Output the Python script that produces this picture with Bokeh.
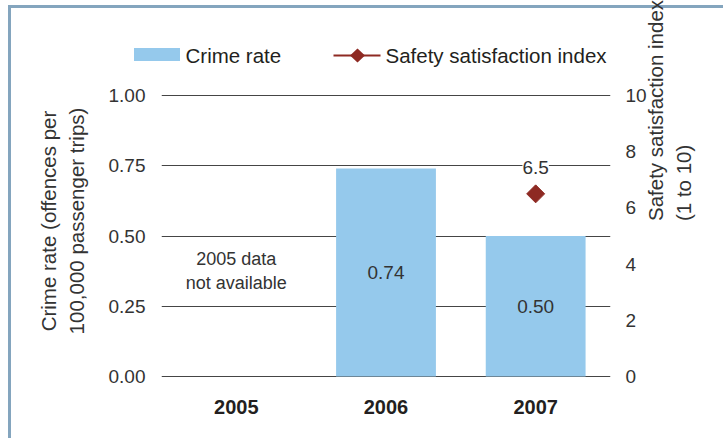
import math

from bokeh.core.properties import value
from bokeh.embed import file_html
from bokeh.models import (BoxAnnotation, ColumnDataSource, FactorRange, FixedTicker,
                          Label, LabelSet, LinearAxis, NumeralTickFormatter,
                          PolyAnnotation, Range1d)
from bokeh.plotting import figure
from bokeh.resources import INLINE

# ---- data -------------------------------------------------------------
years = ["2005", "2006", "2007"]
crime_rate = [float("nan"), 0.74, 0.50]          # offences per 100,000 passenger trips
safety_index = [float("nan"), float("nan"), 6.5]  # satisfaction score, 1 to 10
crime_ticks = [0.0, 0.25, 0.50, 0.75, 1.0]
index_ticks = [0, 2, 4, 6, 8, 10]
missing_note = "2005 data\nnot available"

# ---- style ------------------------------------------------------------
FONT = "Liberation Sans"
BAR = "#95c9ec"
RED = "#8e2a23"
TEXT = "#333333"
GRID = "#454545"
FRAME = "#84a5be"

# The plotting frame reaches up to the legend row and down to the year
# labels; the zero line sits at y=376 px and one unit of rate is 281 px.
PX = 281
ZERO = 376
FRAME_TOP = 45
FRAME_BOTTOM = 396
y_lo, y_hi = -(FRAME_BOTTOM - ZERO) / PX, (ZERO - FRAME_TOP) / PX

p = figure(
    width=723, height=438,
    x_range=FactorRange(*years, range_padding=0),
    y_range=Range1d(y_lo, y_hi),
    output_backend="svg", toolbar_location=None,
    min_border_left=161, min_border_right=113,
    min_border_top=FRAME_TOP, min_border_bottom=438 - FRAME_BOTTOM,
    outline_line_color=None,
    background_fill_alpha=0, border_fill_alpha=0,
)
p.extra_y_ranges = {"index": Range1d(10 * y_lo, 10 * y_hi)}

# panel edge and the legend swatch that pokes out past the frame are painted
# as the plot element's own background
p.styles = {
    "background-color": "white",
    "background-image": (f"linear-gradient({FRAME},{FRAME}), "
                         f"linear-gradient({FRAME},{FRAME}), "
                         f"linear-gradient({BAR},{BAR})"),
    "background-position": "8px 5px, 8px 5px, 134px 48px",
    "background-size": "100% 3px, 3px 100%, 46px 13px",
    "background-repeat": "no-repeat",
}

# bars for crime rate
bar_src = ColumnDataSource(dict(year=years, crime=crime_rate))
p.vbar(x="year", top="crime", width=0.667, source=bar_src,
       fill_color=BAR, line_color=None)

valued = [(y, v) for y, v in zip(years, crime_rate) if not math.isnan(v)]
bar_lbl = ColumnDataSource(dict(
    year=[y for y, _ in valued],
    mid=[v / 2 for _, v in valued],
    text=[f"{v:.2f}" for _, v in valued],
))
p.add_layout(LabelSet(x="year", y="mid", text="text", source=bar_lbl,
                      text_align="center", text_baseline="middle",
                      text_font=value(FONT), text_font_size="19px",
                      text_color=TEXT))

# safety satisfaction index point
idx_src = ColumnDataSource(dict(year=years, index=safety_index))
p.scatter(x="year", y="index", source=idx_src, y_range_name="index",
          marker="square", angle=math.pi / 4, size=12.7,
          fill_color=RED, line_color=RED)

shown = [(y, v) for y, v in zip(years, safety_index) if not math.isnan(v)]
idx_lbl = ColumnDataSource(dict(
    year=[y for y, _ in shown],
    index=[v for _, v in shown],
    text=[f"{v:.1f}" for _, v in shown],
))
p.add_layout(LabelSet(x="year", y="index", text="text", source=idx_lbl,
                      y_range_name="index", y_offset=26,
                      text_align="center", text_baseline="middle",
                      text_font=value(FONT), text_font_size="19px",
                      text_color=TEXT, background_fill_color="white"))

# note for the missing year
p.add_layout(Label(x=0.5, y=0.374, text=missing_note,
                   text_align="center", text_baseline="middle",
                   text_font=FONT, text_font_size="18px",
                   text_color=TEXT))

# ---- axes and grid ----------------------------------------------------
p.xgrid.grid_line_color = None
p.ygrid.ticker = FixedTicker(ticks=crime_ticks)
p.ygrid.grid_line_color = GRID
p.ygrid.grid_line_width = 1

def plain(axis):
    axis.axis_line_color = None
    axis.major_tick_line_color = None
    axis.minor_tick_line_color = None
    axis.major_tick_out = 0
    axis.major_label_text_font = FONT
    axis.major_label_text_color = TEXT
    axis.axis_label_text_font = FONT
    axis.axis_label_text_font_style = "normal"
    axis.axis_label_text_font_size = "20.5px"
    axis.axis_label_text_color = TEXT

ly = p.yaxis[0]
ly.ticker = FixedTicker(ticks=crime_ticks)
ly.formatter = NumeralTickFormatter(format="0.00")
plain(ly)
ly.major_label_text_font_size = "19px"
ly.major_label_standoff = 16
ly.axis_label = "Crime rate (offences per\n100,000 passenger trips)"
ly.axis_label_standoff = 18

ry = LinearAxis(y_range_name="index", ticker=FixedTicker(ticks=index_ticks))
plain(ry)
ry.major_label_text_font_size = "19px"
ry.major_label_standoff = 15
ry.axis_label = "Safety satisfaction index\n(1 to 10)"
ry.axis_label_standoff = 20
ry.axis_label_orientation = math.pi / 2
p.add_layout(ry, "right")

bx = p.xaxis[0]
plain(bx)
bx.major_label_text_font_size = "20px"
bx.major_label_text_font_style = "bold"
bx.major_label_text_color = "#231f20"
bx.major_label_standoff = 3

# ---- legend (inside the frame's top strip) ---------------------------
def sx(x):
    return x - 161

def sy(y):
    return FRAME_BOTTOM - y

for x, txt in ((185, "Crime rate"), (385, "Safety satisfaction index")):
    p.add_layout(Label(x=sx(x), y=sy(55), x_units="screen", y_units="screen",
                       text=txt, text_align="left", text_baseline="middle",
                       text_font=FONT, text_font_size="20.5px",
                       text_color="#231f20"))

p.add_layout(BoxAnnotation(left=sx(333), right=sx(380), top=sy(54), bottom=sy(56),
                           left_units="screen", right_units="screen",
                           top_units="screen", bottom_units="screen",
                           fill_color=RED, fill_alpha=1, line_color=None))
p.add_layout(PolyAnnotation(xs=[sx(349.5), sx(357), sx(364.5), sx(357)],
                            ys=[sy(55), sy(48), sy(55), sy(62)],
                            xs_units="screen", ys_units="screen",
                            fill_color=RED, fill_alpha=1, line_color=None))

open("out.html", "w").write(file_html(p, INLINE))
